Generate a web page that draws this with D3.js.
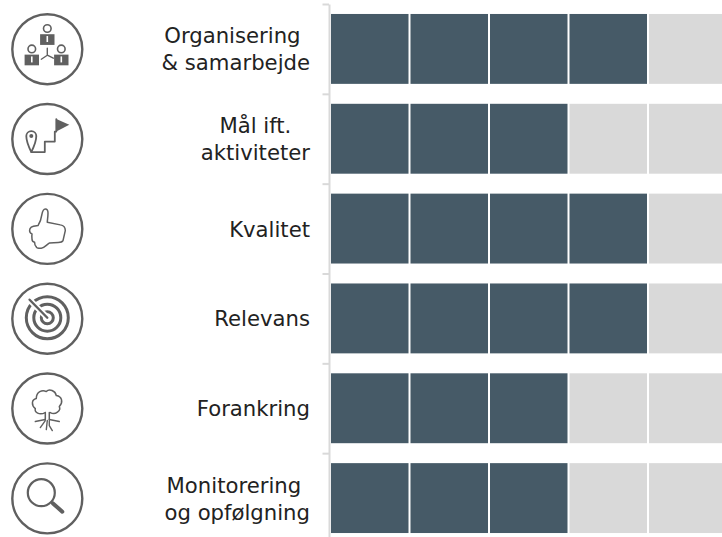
<!DOCTYPE html>
<html>
<head>
<meta charset="utf-8">
<script src="https://cdn.jsdelivr.net/npm/d3@7"></script>
<style>
  html, body { margin: 0; padding: 0; background: #fff; overflow: hidden; }
  text { font-family: Verdana, "DejaVu Sans", sans-serif; font-size: 21.2px; fill: #222; }
</style>
</head>
<body>
<script>
  // chart values
  const categories = ["Organisering", "Mål ift.", "Kvalitet", "Relevans", "Forankring", "Monitorering"];
  const labelLines = [
    ["Organisering ", "& samarbejde"],
    ["Mål ift.", "aktiviteter"],
    ["Kvalitet"],
    ["Relevans"],
    ["Forankring"],
    ["Monitorering ", "og opfølgning"]
  ];
  const scores = [4, 3, 4, 4, 3, 3];
  const maxScore = 5;
  const iconNames = ["org", "flag", "thumb", "target", "tree", "search"];

  const width = 722, height = 537;
  const svg = d3.select("body").append("svg")
    .attr("width", width)
    .attr("height", height)
    .style("display", "block");

  // scales
  const x = d3.scaleLinear().domain([0, maxScore]).range([330.5, 728]);
  const y = d3.scaleBand().domain(categories).range([4, 543]).paddingInner(0.222).paddingOuter(0.111);
  const yTicks = d3.scaleLinear().domain([0, categories.length]).range([4, 543]);

  // one row of cells for each category
  const rows = svg.selectAll("g.row")
    .data(categories)
    .enter().append("g")
    .attr("class", "row")
    .attr("transform", d => "translate(0," + y(d) + ")");

  rows.each(function(d, i) {
    d3.select(this).selectAll("rect")
      .data(d3.range(maxScore).map(k => ({ k: k, on: k < scores[i] })))
      .enter().append("rect")
      .attr("x", c => x(c.k) + 0.5)
      .attr("width", c => x(c.k + 1) - x(c.k) - 2)
      .attr("y", 0)
      .attr("height", y.bandwidth())
      .attr("fill", c => c.on ? "#465a67" : "#d9d9d9");
  });

  // left axis
  const axis = svg.append("g")
    .attr("transform", "translate(329,0)")
    .call(d3.axisLeft(yTicks).tickValues(d3.range(categories.length + 1)).tickFormat("").tickSize(6.5).tickSizeOuter(0));
  axis.selectAll("path, line").attr("stroke", "#d9d9d9").attr("stroke-width", 2);

  // category labels: the block sits against x=310, its lines centred inside it
  const lineGap = 27;
  rows.each(function(d, i) {
    const lines = labelLines[i];
    const t = d3.select(this).selectAll("text")
      .data(lines)
      .enter().append("text")
      .attr("y", (s, k) => y.bandwidth() / 2 + 8 + (k - (lines.length - 1) / 2) * lineGap)
      .attr("text-anchor", "middle")
      .style("white-space", "pre")
      .text(s => s);
    const widest = d3.max(t.nodes(), n => n.getComputedTextLength());
    t.attr("x", 310 - widest / 2);
  });

  // icons in circles
  const iconInk = "#606060";
  const icons = svg.selectAll("g.icon")
    .data(iconNames)
    .enter().append("g")
    .attr("class", "icon")
    .attr("transform", (d, i) => "translate(47.3," + (y(categories[i]) + y.bandwidth() / 2 + 0.3) + ")")
    .attr("fill", "none")
    .attr("stroke", iconInk)
    .attr("stroke-width", 1.6)
    .attr("stroke-linecap", "round")
    .attr("stroke-linejoin", "round");

  icons.append("circle").attr("r", 35).attr("stroke-width", 2.4);

  function person(g, cx, cy) {
    g.append("circle").attr("cx", cx).attr("cy", cy).attr("r", 3.8).attr("stroke-width", 1.6);
    g.append("rect").attr("x", cx - 7.2).attr("y", cy + 5.7).attr("width", 14.4).attr("height", 10.7)
      .attr("fill", iconInk).attr("stroke", "none");
    g.append("rect").attr("x", cx - 0.8).attr("y", cy + 7.5).attr("width", 1.6).attr("height", 6)
      .attr("fill", "#fff").attr("stroke", "none");
  }

  const org = icons.filter(d => d === "org");
  person(org, 0, -20.7);
  person(org, -15.5, -0.3);
  person(org, 14, -0.3);
  org.append("path").attr("d", "M0,-1V6M0,6L-6,10M0,6L6,9").attr("stroke-width", 1.4);

  const flag = icons.filter(d => d === "flag");
  flag.append("path").attr("d", "M-16,13H-2.5V2.5H7.5V-7.5H9V-20").attr("stroke-width", 1.8);
  flag.append("path").attr("d", "M9,-20L22,-14.3L9,-7.5Z").attr("fill", iconInk).attr("stroke", "none");
  flag.append("path").attr("d", "M-16,13C-19,7 -21,2 -21,-3A5,5 0 0 1 -11,-3C-11,2 -13,7 -16,13Z").attr("stroke-width", 1.8);
  flag.append("circle").attr("cx", -16).attr("cy", -3).attr("r", 2).attr("fill", iconInk).attr("stroke", "none");

  const thumb = icons.filter(d => d === "thumb");
  thumb.append("path")
    .attr("d", "M-9.3,-3.3C-7,-7 -6,-10 -5.5,-14C-5,-17 -4.3,-20 -2,-20C0,-20 0.7,-18 0.7,-16C0.7,-12 0,-9 0,-6.7L13,-4C16,-3.5 18,-1 18,1.7L15.7,11.7C15,13 13,13.5 11,13.5L2.3,14C-1,16 -3,19 -6,19.3C-9,19.5 -11,19 -11,18C-12,17 -12.7,15 -12.7,13.3C-14,13 -15.3,12 -15.3,10C-15.5,8 -15.5,6 -15.3,5C-17,4.5 -17.7,3 -17.7,1.7C-17.7,0 -17,-1 -16,-1.7C-14,-3 -11.5,-3 -9.3,-3.3Z")
    .attr("stroke-width", 1.5);

  const target = icons.filter(d => d === "target");
  target.append("circle").attr("cy", -1).attr("r", 6).attr("stroke-width", 3);
  target.append("circle").attr("cy", -1).attr("r", 13.5).attr("stroke-width", 3);
  target.append("circle").attr("cy", -1).attr("r", 21).attr("stroke-width", 3);
  target.append("path").attr("d", "M-1,-2L-18,-19").attr("stroke", "#fff").attr("stroke-width", 6).attr("stroke-linecap", "butt");
  target.append("path").attr("d", "M0,-1L-17.7,-19").attr("stroke-width", 2.4);

  const tree = icons.filter(d => d === "tree");
  tree.append("path")
    .attr("d", "M-2,4C-8,7 -13,4 -12,0C-16,-3 -16,-9 -11,-10C-11,-17 -5,-19 -1,-17C2,-20 8,-18 9,-13C15,-12 16,-6 12,-2C14,2 8,7 3,4")
    .attr("stroke-width", 1.5);
  tree.append("path").attr("d", "M-2,4V11M2,4V11").attr("stroke-width", 1.5);
  tree.append("path").attr("d", "M-2,11L-12,13M2,11L12,13M-2,12L-7,19M2,12L2,17L5,22M0,12L-1,21").attr("stroke-width", 1.4);

  const search = icons.filter(d => d === "search");
  search.append("circle").attr("cx", -6).attr("cy", -5.7).attr("r", 13.5).attr("stroke-width", 2.2);
  search.append("path").attr("d", "M5.7,5L15,13.3").attr("stroke-width", 4);
</script>
</body>
</html>
